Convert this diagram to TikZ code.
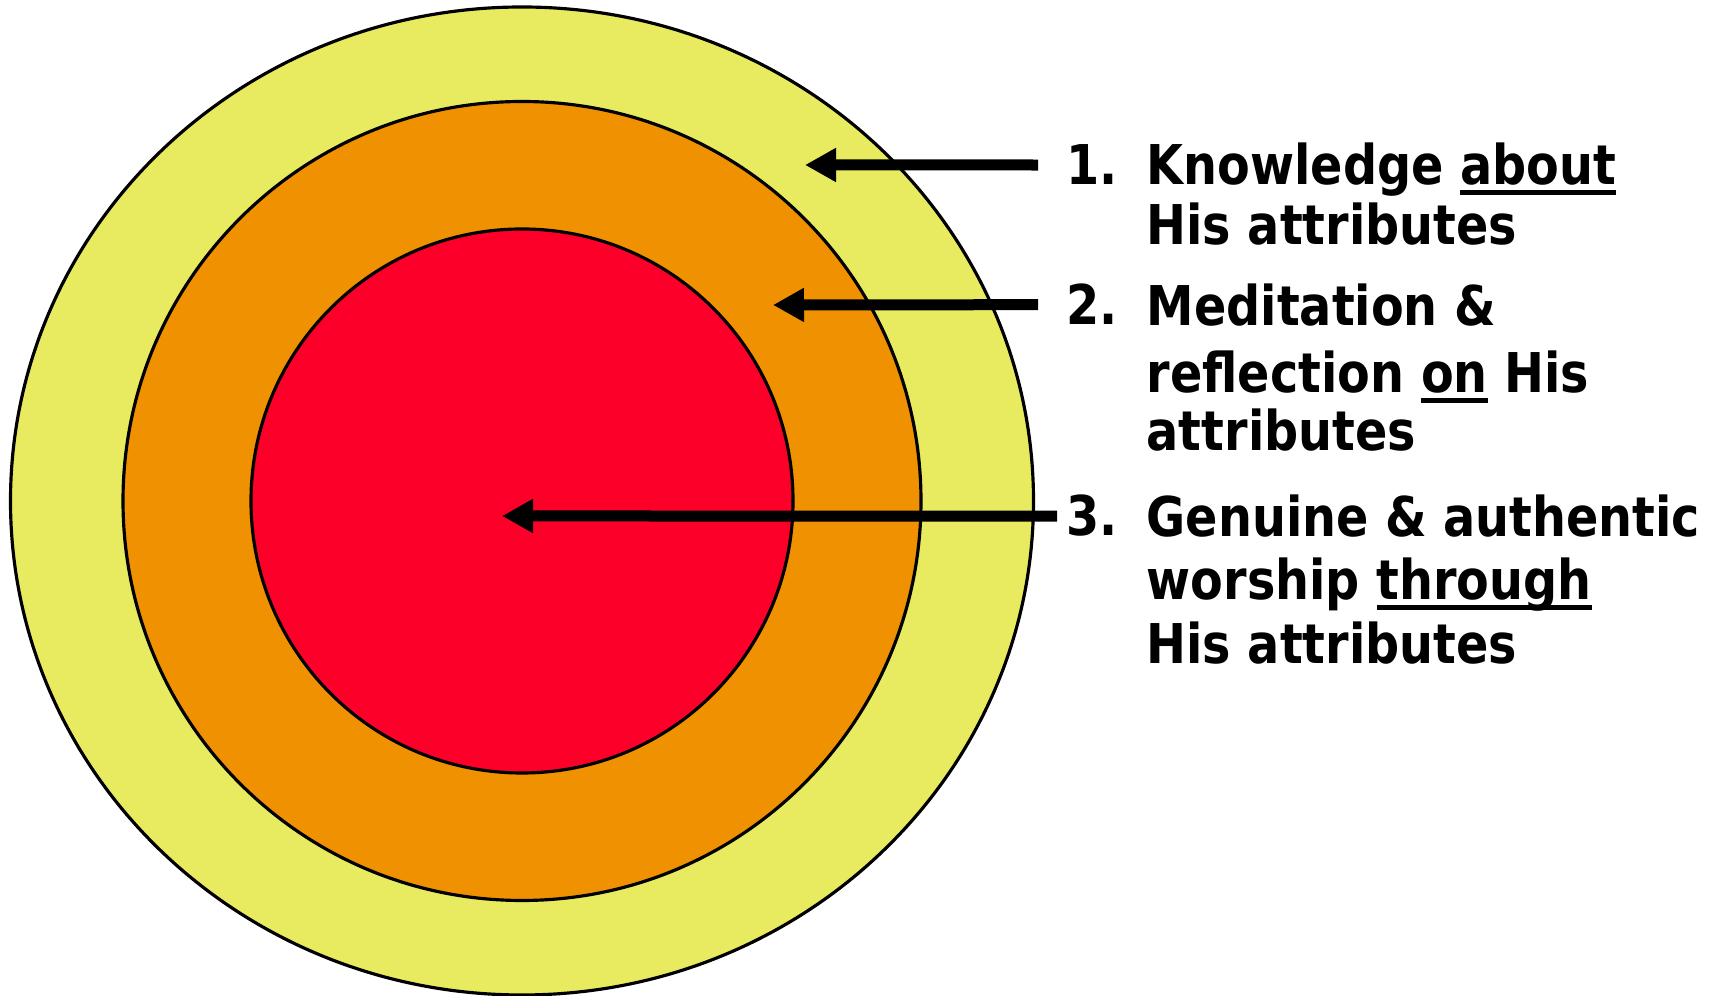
\documentclass[tikz,border=0pt]{standalone}
\usepackage{fontspec}
\setsansfont{DejaVu Sans}[FakeStretch=0.87]
\usepackage{tikz}
\usetikzlibrary{arrows.meta, positioning}
\definecolor{Ink}{HTML}{000000}
\definecolor{OuterRing}{HTML}{E8EB5F}
\definecolor{MidRing}{HTML}{EF9100}
\definecolor{Core}{HTML}{FC0029}
\newcommand{\ulword}[1]{\setbox0\hbox{#1}\rlap{\rule[-0.18em]{\wd0}{0.09em}}\box0\relax}

\begin{document}
\begin{tikzpicture}[
  font=\sffamily\bfseries\fontsize{15.6pt}{17.07pt}\selectfont,
  ring/.style={draw=Ink, line width=0.9pt},
  num/.style={anchor=base west, inner sep=0pt},
  item/.style={anchor=base west, align=left, inner sep=0pt},
  arrow/.style={-{Triangle[length=0.31cm, width=0.32cm]}, line width=0.11cm, draw=Ink}
]
\useasboundingbox (0,0) rectangle (17.11,9.96);

% target rings
\coordinate (ctr) at (5.22,4.95);
\draw[ring, fill=OuterRing] (ctr) ellipse [x radius=5.115, y radius=4.94];
\draw[ring, fill=MidRing] (ctr) ellipse [x radius=3.99, y radius=3.995];
\draw[ring, fill=Core] (ctr) ellipse [x radius=2.71, y radius=2.72];

% labels (base = last line)
\node[num] (n1) at (10.66,8.11) {1.};
\node[item] (t1) at (11.46,7.51) {Knowledge \ulword{about}\\His attributes};
\node[num] (n2) at (10.66,6.71) {2.};
\node[item] (t2) at (11.46,5.45) {Meditation \&\\[0.08cm]reflection \ulword{on} His\\[-0.02cm]attributes};
\node[num] (n3) at (10.66,4.60) {3.};
\node[item] (t3) at (11.46,3.32) {Genuine \& authentic\\[0.04cm]worship \ulword{through}\\[0.04cm]His attributes};

% arrows into the rings
\coordinate (tip1) at (8.05,8.31);
\coordinate (tip2) at (7.73,6.91);
\coordinate (tip3) at (5.02,4.80);
\draw[arrow, shorten <=0.28cm] (n1.west) -- (tip1);
\draw[arrow, shorten <=0.28cm] (n2.west) -- (tip2);
\draw[arrow, shorten <=0.09cm] (n3.west) -- (tip3);
\end{tikzpicture}
\end{document}
